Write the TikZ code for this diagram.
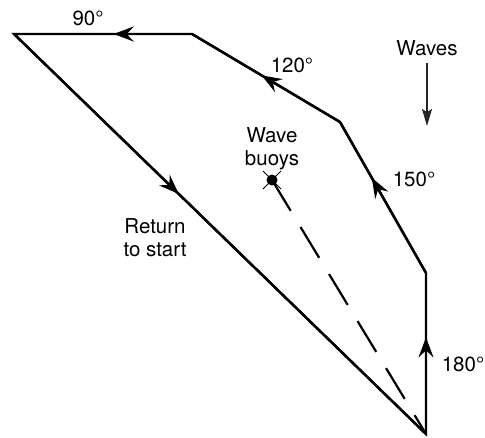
\documentclass[tikz,border=0pt]{standalone}
\usepackage{fontspec}
\setmainfont{TeX Gyre Heros}
\usetikzlibrary{arrows.meta,decorations.markings}
\tikzset{
  edge/.style={line width=2.4pt, line join=miter},
  midarrow/.style={postaction={decorate},
    decoration={markings, mark=at position #1 with {\arrow{Stealth[length=20pt,width=15pt,inset=7pt]}}}},
  lbl/.style={font=\fontsize{20.5}{23}\selectfont, inner sep=0pt, align=center},
  dashline/.style={line width=2.2pt, dash pattern=on 36pt off 19pt},
  wavearrow/.style={line width=1.3pt, draw=black!85, -{Stealth[length=17pt,width=10pt,inset=3pt]}}
}
\begin{document}
\begin{tikzpicture}[x=1pt,y=-1pt]
\useasboundingbox (0,0) rectangle (485,437);
% vertices
\coordinate (S) at (426,434);
\coordinate (A) at (426,273);
\coordinate (B) at (340,122);
\coordinate (C) at (192,34);
\coordinate (D) at (14,34);
% course
\draw[edge] (S) -- (A) -- (B) -- (C) -- (D) -- cycle;
\draw[edge, midarrow=0.6] (S) -- (A);
\draw[edge, midarrow=0.63] (A) -- (B);
\draw[edge, midarrow=0.53] (B) -- (C);
\draw[edge, midarrow=0.44] (C) -- (D);
\draw[edge, midarrow=0.40] (D) -- (S);
% buoy
\node[circle, fill=black, inner sep=0pt, minimum size=11pt] (buoy) at (272,180) {};
\draw[line width=1pt] ([shift={(-9,-9)}]buoy.center) -- ([shift={(9,9)}]buoy.center);
\draw[line width=1pt] ([shift={(-9,9)}]buoy.center) -- ([shift={(9,-9)}]buoy.center);
\draw[dashline] (buoy.center) -- (S);
% labels
\node[lbl, anchor=base] (l90) at (88,25) {90°};
\node[lbl, anchor=base] (l120) at (292,72.5) {120°};
\node[lbl, anchor=base] (l150) at (414,186.5) {150°};
\node[lbl, anchor=base] (l180) at (463,371.5) {180°};
\node[lbl, anchor=north] (wb) at (272,127) {Wave\\buoys};
\node[lbl, anchor=north] (ret) at (155,218) {Return\\to start};
\node[lbl, anchor=base] (waves) at (427,55) {Waves};
\coordinate (wend) at (427,126);
\draw[wavearrow] (427,63) -- (wend);
\end{tikzpicture}
\end{document}
